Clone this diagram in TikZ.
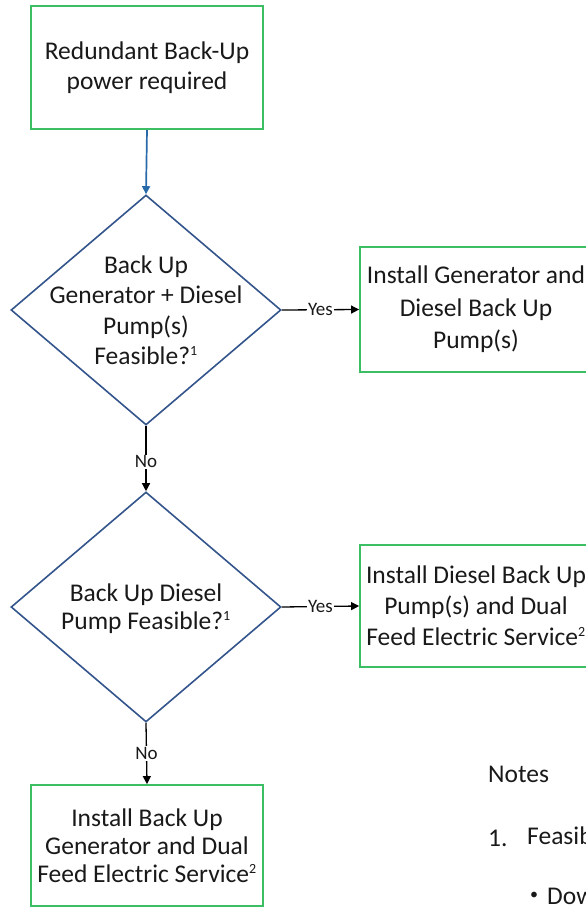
\documentclass[tikz,border=0pt]{standalone}
\usepackage{fontspec}
\setmainfont{Carlito}
\usetikzlibrary{shapes.geometric,arrows.meta}
\definecolor{boxgreen}{RGB}{60,190,100}
\definecolor{diablue}{RGB}{52,84,140}
\definecolor{arrblue}{RGB}{40,105,170}
\definecolor{txtgray}{RGB}{25,25,25}
\tikzset{
  procbox/.style={draw=boxgreen,line width=1.8pt,fill=white,inner sep=0pt},
  dia/.style={draw=diablue,line width=1.6pt,diamond,inner sep=0pt,minimum width=270pt,minimum height=230pt},
  btxt/.style={align=center,font=\fontsize{25.5}{30}\selectfont,text=txtgray,inner sep=0pt},
  arr/.style={line width=1.3pt,-{Triangle[length=8pt,width=8pt]}},
  lbl/.style={fill=white,inner sep=1pt,font=\fontsize{19}{20}\selectfont,text=txtgray},
  notetxt/.style={anchor=west,font=\fontsize{25.5}{30}\selectfont,text=txtgray,inner sep=0pt}
}
\begin{document}
\begin{tikzpicture}[x=1pt,y=-1pt]
\useasboundingbox (0,0) rectangle (586,908);
% boxes
\node[procbox,minimum width=232pt,minimum height=123pt] (b1) at (147,67.5) {};
\node[btxt] at (b1) {Redundant Back-Up\\power required};
\node[dia] (d1) at (146,310) {};
\node[btxt,font=\fontsize{25.5}{30.5}\selectfont] at (d1) {Back Up\\Generator + Diesel\\Pump(s)\\Feasible?\textsuperscript{\fontsize{14}{14}\selectfont 1}};
\node[procbox,minimum width=232pt,minimum height=125pt] (b2) at (476,309.5) {};
\node[btxt,font=\fontsize{25.5}{32.5}\selectfont] at (b2) {Install Generator and\\Diesel Back Up\\Pump(s)};
\node[dia] (d2) at (146,607) {};
\node[btxt,font=\fontsize{25.5}{28}\selectfont] at ([yshift=-2pt]d2.center) {Back Up Diesel\\Pump Feasible?\textsuperscript{\fontsize{14}{14}\selectfont 1}};
\node[procbox,minimum width=232pt,minimum height=122pt] (b3) at (476,606) {};
\node[btxt,font=\fontsize{25.5}{31}\selectfont] at (b3) {Install Diesel Back Up\\Pump(s) and Dual\\Feed Electric Service\textsuperscript{\fontsize{14}{14}\selectfont 2}};
\node[procbox,minimum width=232pt,minimum height=121pt] (b4) at (147,845.5) {};
\node[btxt,font=\fontsize{25.5}{28}\selectfont] at (b4) {Install Back Up\\Generator and Dual\\Feed Electric Service\textsuperscript{\fontsize{14}{14}\selectfont 2}};
% connectors
\draw[arr,line width=1.7pt,draw=arrblue,-{Triangle[length=8pt,width=8pt,fill=arrblue]}] (b1.south) -- (d1.north);
\draw[arr] (d1.east) -- node[lbl,pos=0.5]{Yes} (b2.west);
\draw[arr] (d1.south) -- node[lbl,pos=0.55]{No} (d2.north);
\draw[arr] (d2.east) -- node[lbl,pos=0.5]{Yes} (b3.west);
\draw[arr] (d2.south) -- node[lbl,pos=0.5]{No} (b4.north);
% notes
\node[notetxt] (notes) at (488,774) {Notes};
\node[notetxt] (n1) at (488,838) {1.};
\node[notetxt] (n1t) at (527,838) {Feasibility};
\node[notetxt] (bul) at (530,896) {\fontsize{16}{16}\selectfont •};
\node[notetxt] (bt) at (547,896) {Down};
\end{tikzpicture}
\end{document}
